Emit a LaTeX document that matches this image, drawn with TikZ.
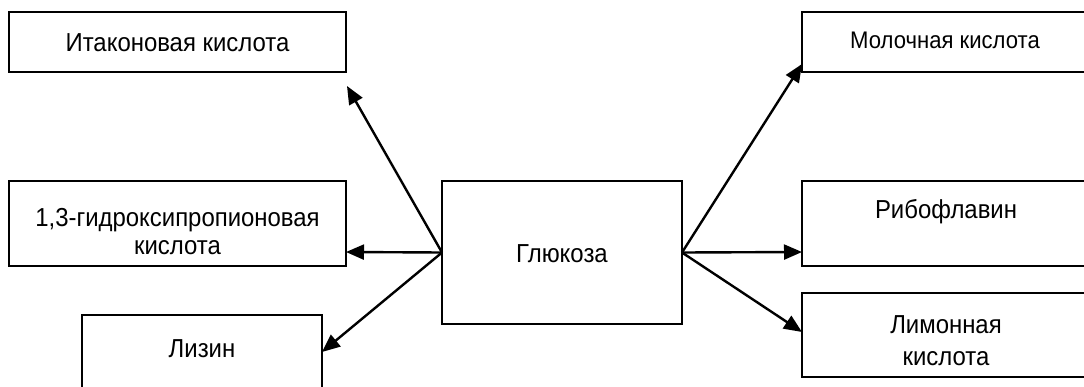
\documentclass[tikz,border=0pt]{standalone}
\usepackage{fontspec}
\setmainfont[FakeStretch=0.92]{Liberation Sans}
\usetikzlibrary{calc,arrows.meta}
\begin{document}
\begin{tikzpicture}[x=1pt,y=-1pt,
  box/.style={draw=black,line width=2pt,rectangle,inner sep=0pt,outer sep=0pt,anchor=north west},
  lbl/.style={inner sep=0pt,anchor=base,align=center,font=\fontsize{26}{28}\selectfont},
  flow/.style={line width=2.4pt,-{Triangle[length=18pt,width=15pt]}}]
\useasboundingbox (0,0) rectangle (1084,386);
\fill[white] (0,0) rectangle (1084,386);
\clip (0,0) rectangle (1084,386);

% product boxes on the left
\node[box,minimum width=337pt,minimum height=60pt] (ita) at (9,12) {};
\node[box,minimum width=337pt,minimum height=85pt] (hpa) at (9,181) {};
\node[box,minimum width=240pt,minimum height=80pt] (lys) at (82,315) {};
% substrate
\node[box,minimum width=240pt,minimum height=143pt] (glc) at (442,181) {};
% product boxes on the right
\node[box,minimum width=290pt,minimum height=60pt] (lac) at (802,12) {};
\node[box,minimum width=290pt,minimum height=85pt] (rib) at (802,181) {};
\node[box,minimum width=290pt,minimum height=84pt] (cit) at (802,293) {};

% labels (a two-line label sits on the baseline of its last line)
\node[lbl] (ita-t) at (177.5,51) {Итаконовая кислота};
\node[lbl] (hpa-t) at (177.5,254) {1,3-гидроксипропионовая\\кислота};
\node[lbl] (lys-t) at (202,357) {Лизин};
\node[lbl] (glc-t) at (562,262) {Глюкоза};
\node[lbl,font=\fontsize{24}{26}\selectfont] (lac-t) at (945,48) {Молочная кислота};
\node[lbl] (rib-t) at (946,218) {Рибофлавин};
\node[lbl,font=\fontsize{26}{32}\selectfont] (cit-t) at (946,365) {Лимонная\\кислота};

% conversions
\draw[flow] (glc.west) -- ($(ita.south east)+(1,14)$);
\draw[flow] (glc.west) -- ($(hpa.south east)+(0,-14)$);
\draw[flow] (glc.west) -- ($(lys.north east)+(0,37)$);
\draw[flow] (glc.east) -- ($(lac.south west)+(0,-8)$);
\draw[flow] (glc.east) -- ($(rib.south west)+(0,-14)$);
\draw[flow] (glc.east) -- ($(cit.north west)+(0,39)$);
\end{tikzpicture}
\end{document}
